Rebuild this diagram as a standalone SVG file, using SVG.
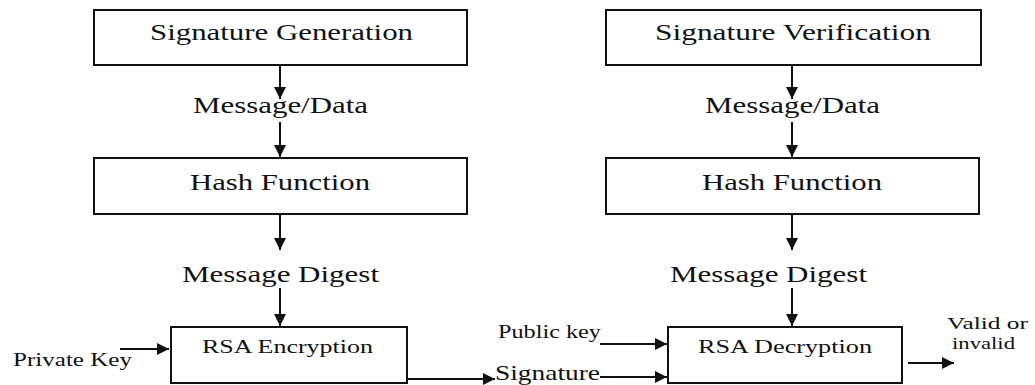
<svg xmlns="http://www.w3.org/2000/svg" width="1035" height="385" viewBox="0 0 1035 385">
<style>
.box{fill:#fff;stroke:#111;stroke-width:2}
.t{font-family:"Liberation Serif","Times New Roman",serif;fill:#111}
.big{font-size:24px}
.sm{font-size:19px}
.vs{font-size:17px}
.sig{font-size:21px}
.c{stroke:#111;stroke-width:2;fill:none;marker-end:url(#ah)}
</style>
<defs>
<marker id="ah" markerUnits="userSpaceOnUse" markerWidth="13" markerHeight="12" refX="12" refY="6" orient="auto">
<path d="M0,0 L12,6 L0,12 z" fill="#111"/>
</marker>
</defs>
<rect width="1035" height="385" fill="#fff"/>
<g id="sig-gen"><rect class="box" x="94" y="10" width="373" height="55"/><text class="t big" x="150" y="40" textLength="263" lengthAdjust="spacingAndGlyphs">Signature Generation</text></g>
<g id="msg-data-l"><text class="t big" x="193" y="113" textLength="175" lengthAdjust="spacingAndGlyphs">Message/Data</text></g>
<g id="hash-l"><rect class="box" x="94" y="158" width="373" height="56"/><text class="t big" x="190" y="190" textLength="180" lengthAdjust="spacingAndGlyphs">Hash Function</text></g>
<g id="digest-l"><text class="t big" x="182" y="282" textLength="197" lengthAdjust="spacingAndGlyphs">Message Digest</text></g>
<g id="rsa-enc"><rect class="box" x="171" y="327" width="236" height="56"/><text class="t sm" x="202" y="353" textLength="171" lengthAdjust="spacingAndGlyphs">RSA Encryption</text></g>
<g id="private-key"><text class="t sm" x="13" y="366" textLength="119" lengthAdjust="spacingAndGlyphs">Private Key</text></g>
<g id="signature"><text class="t sig" x="495" y="380" textLength="105" lengthAdjust="spacingAndGlyphs">Signature</text></g>
<g id="sig-ver"><rect class="box" x="606" y="10" width="375" height="55"/><text class="t big" x="655" y="40" textLength="276" lengthAdjust="spacingAndGlyphs">Signature Verification</text></g>
<g id="msg-data-r"><text class="t big" x="705" y="113" textLength="175" lengthAdjust="spacingAndGlyphs">Message/Data</text></g>
<g id="hash-r"><rect class="box" x="606" y="158" width="373" height="56"/><text class="t big" x="702" y="190" textLength="180" lengthAdjust="spacingAndGlyphs">Hash Function</text></g>
<g id="digest-r"><text class="t big" x="670" y="282" textLength="197" lengthAdjust="spacingAndGlyphs">Message Digest</text></g>
<g id="rsa-dec"><rect class="box" x="668" y="327" width="234" height="56"/><text class="t sm" x="698" y="353" textLength="174" lengthAdjust="spacingAndGlyphs">RSA Decryption</text></g>
<g id="public-key"><text class="t sm" x="498" y="338" textLength="103" lengthAdjust="spacingAndGlyphs">Public key</text></g>
<g id="valid"><text class="t vs" x="947" y="329" textLength="81" lengthAdjust="spacingAndGlyphs">Valid or</text><text class="t vs" x="952" y="349" textLength="63" lengthAdjust="spacingAndGlyphs">invalid</text></g>
<g id="connectors">
<line class="c" x1="280" y1="65" x2="280" y2="99"/>
<line class="c" x1="280" y1="122" x2="280" y2="157"/>
<line class="c" x1="280" y1="214" x2="280" y2="250"/>
<line class="c" x1="280" y1="288" x2="280" y2="326"/>
<line class="c" x1="120" y1="349" x2="169" y2="349"/>
<line class="c" x1="407" y1="379" x2="495" y2="379"/>
<line class="c" x1="792" y1="65" x2="792" y2="99"/>
<line class="c" x1="792" y1="122" x2="792" y2="157"/>
<line class="c" x1="792" y1="214" x2="792" y2="250"/>
<line class="c" x1="792" y1="288" x2="792" y2="326"/>
<line class="c" x1="600" y1="344" x2="667" y2="344"/>
<line class="c" x1="600" y1="377" x2="667" y2="377"/>
<line class="c" x1="908" y1="363" x2="954" y2="363"/>
</g>
</svg>
